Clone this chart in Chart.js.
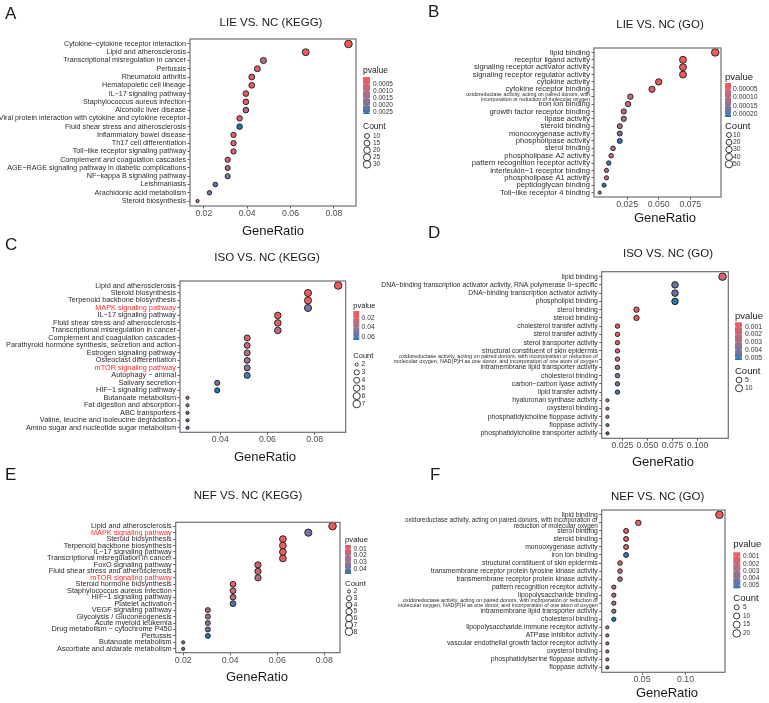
<!DOCTYPE html>
<html><head><meta charset="utf-8">
<script src="https://cdn.jsdelivr.net/npm/chart.js@4.4.1/dist/chart.umd.min.js"></script>
<style>
html,body{margin:0;padding:0;background:#fff;}
#wrap{position:relative;width:769px;height:703px;overflow:hidden;background:#fff;}
canvas{position:absolute;}
</style></head><body><div id="wrap"></div>
<script>
// ---------------- DATA ----------------
const A_terms = ["Cytokine−cytokine receptor interaction","Lipid and atherosclerosis","Transcriptional misregulation in cancer","Pertussis","Rheumatoid arthritis","Hematopoietic cell lineage","IL−17 signaling pathway","Staphylococcus aureus infection","Alcoholic liver disease","Viral protein interaction with cytokine and cytokine receptor","Fluid shear stress and atherosclerosis","Inflammatory bowel disease","Th17 cell differentiation","Toll−like receptor signaling pathway","Complement and coagulation cascades","AGE−RAGE signaling pathway in diabetic complications","NF−kappa B signaling pathway","Leishmaniasis","Arachidonic acid metabolism","Steroid biosynthesis"];
const A_ratio = [0.0867,0.067,0.0475,0.0447,0.0421,0.0421,0.0394,0.0394,0.0394,0.0365,0.0365,0.0337,0.0337,0.0337,0.031,0.031,0.031,0.0253,0.0226,0.0171];
const A_count = [31,24,17,16,15,15,14,14,14,13,13,12,12,12,11,11,11,9,8,6];
const A_pvalue = [0.00001,0.0001,0.0012,0.0002,0.0002,0.0003,0.0003,0.0003,0.0011,0.0004,0.0026,0.0004,0.0005,0.0006,0.0006,0.0013,0.0019,0.0023,0.0018,0.0004];
const A_xticks = ["0.02","0.04","0.06","0.08"];
const A_pticks = ["0.0005","0.0010","0.0015","0.0020","0.0025"];
const A_cticks = [10,15,20,25,30];
const A_red = [];

const B_terms = ["lipid binding","receptor ligand activity","signaling receptor activator activity","signaling receptor regulator activity","cytokine activity","cytokine receptor binding","oxidoreductase activity, acting on paired donors, with\nincorporation or reduction of molecular oxygen","iron ion binding","growth factor receptor binding","lipase activity","steroid binding","monooxygenase activity","phospholipase activity","sterol binding","phospholipase A2 activity","pattern recognition receptor activity","interleukin−1 receptor binding","phospholipase A1 activity","peptidoglycan binding","Toll−like receptor 4 binding"];
const B_ratio = [0.0947,0.0692,0.0692,0.0692,0.05,0.0447,0.0276,0.0258,0.0224,0.0224,0.0192,0.0192,0.0192,0.0139,0.0124,0.0105,0.0087,0.0087,0.0068,0.0034];
const B_count = [55,40,40,40,29,26,16,15,13,13,11,11,11,8,7,6,5,5,4,2];
const B_pvalue = [0.000013,0.000015,0.000017,0.000019,0.00002,0.000022,0.00008,0.00006,0.0001,0.00011,0.00013,0.00018,0.00021,0.0001,0.00007,0.0002,0.00011,0.00007,0.000216,0.00012];
const B_xticks = ["0.025","0.050","0.075"];
const B_pticks = ["0.00005","0.00010","0.00015","0.00020"];
const B_cticks = [10,20,30,40,50];
const B_red = [];

const C_terms = ["Lipid and atherosclerosis","Steroid biosynthesis","Terpenoid backbone biosynthesis","MAPK signaling pathway","IL−17 signaling pathway","Fluid shear stress and atherosclerosis","Transcriptional misregulation in cancer","Complement and coagulation cascades","Parathyroid hormone synthesis, secretion and action","Estrogen signaling pathway","Osteoclast differentiation","mTOR signaling pathway","Autophagy − animal","Salivary secretion","HIF−1 signaling pathway","Butanoate metabolism","Fat digestion and absorption","ABC transporters","Valine, leucine and isoleucine degradation","Amino sugar and nucleotide sugar metabolism"];
const C_ratio = [0.09,0.0772,0.0772,0.0772,0.0644,0.0644,0.0644,0.0514,0.0514,0.0514,0.0514,0.0514,0.0514,0.0387,0.0387,0.0261,0.0261,0.0261,0.0261,0.0261];
const C_count = [7,6,6,6,5,5,5,4,4,4,4,4,4,3,3,2,2,2,2,2];
const C_pvalue = [0.004,0.006,0.008,0.05,0.009,0.011,0.028,0.012,0.02,0.03,0.035,0.045,0.062,0.05,0.067,0.026,0.048,0.055,0.06,0.064];
const C_xticks = ["0.04","0.06","0.08"];
const C_pticks = ["0.02","0.04","0.06"];
const C_cticks = [2,3,4,5,6,7];
const C_red = [3,11];

const D_terms = ["lipid binding","DNA−binding transcription activator activity, RNA polymerase II−specific","DNA−binding transcription activator activity","phospholipid binding","sterol binding","steroid binding","cholesterol transfer activity","sterol transfer activity","sterol transporter activity","structural constituent of skin epidermis","oxidoreductase activity, acting on paired donors, with incorporation or reduction of\nmolecular oxygen, NAD(P)H as one donor, and incorporation of one atom of oxygen","intramembrane lipid transporter activity","cholesterol binding","carbon−carbon lyase activity","lipid transfer activity","hyaluronan synthase activity","oxysterol binding","phosphatidylcholine floppase activity","floppase activity","phosphatidylcholine transporter activity"];
const D_ratio = [0.125,0.0775,0.0775,0.0775,0.039,0.039,0.02,0.02,0.02,0.02,0.02,0.02,0.02,0.02,0.02,0.01,0.01,0.01,0.01,0.01];
const D_count = [13,8,8,8,4,4,2,2,2,2,2,2,2,2,2,1,1,1,1,1];
const D_pvalue = [0.0016,0.0045,0.0046,0.0052,0.0004,0.0005,0.0006,0.0007,0.0011,0.0013,0.0021,0.003,0.0042,0.0043,0.005,0.0012,0.0013,0.0014,0.004,0.0053];
const D_xticks = ["0.025","0.050","0.075","0.100"];
const D_pticks = ["0.001","0.002","0.003","0.004","0.005"];
const D_cticks = [5,10];
const D_red = [];

const E_terms = ["Lipid and atherosclerosis","MAPK signaling pathway","Steroid biosynthesis","Terpenoid backbone biosynthesis","IL−17 signaling pathway","Transcriptional misregulation in cancer","FoxO signaling pathway","Fluid shear stress and atherosclerosis","mTOR signaling pathway","Steroid hormone biosynthesis","Staphylococcus aureus infection","HIF−1 signaling pathway","Platelet activation","VEGF signaling pathway","Glycolysis / Gluconeogenesis","Acute myeloid leukemia","Drug metabolism − cytochrome P450","Pertussis","Butanoate metabolism","Ascorbate and aldarate metabolism"];
const E_ratio = [0.0835,0.0732,0.0624,0.0624,0.0624,0.0624,0.0518,0.0518,0.0518,0.0412,0.0412,0.0412,0.0412,0.0305,0.0305,0.0305,0.0305,0.0305,0.02,0.02];
const E_count = [8,7,6,6,6,6,5,5,5,4,4,4,4,3,3,3,3,3,2,2];
const E_pvalue = [0.004,0.038,0.005,0.006,0.007,0.01,0.016,0.018,0.021,0.008,0.015,0.022,0.043,0.026,0.03,0.034,0.038,0.048,0.036,0.036];
const E_xticks = ["0.02","0.04","0.06","0.08"];
const E_pticks = ["0.01","0.02","0.03","0.04"];
const E_cticks = [2,3,4,5,6,7,8];
const E_red = [1,8];

const F_terms = ["lipid binding","oxidoreductase activity, acting on paired donors, with incorporation or\nreduction of molecular oxygen","sterol binding","steroid binding","monooxygenase activity","iron ion binding","structural constituent of skin epidermis","transmembrane receptor protein tyrosine kinase activity","transmembrane receptor protein kinase activity","pattern recognition receptor activity","lipopolysaccharide binding","oxidoreductase activity, acting on paired donors, with incorporation or reduction of\nmolecular oxygen, NAD(P)H as one donor, and incorporation of one atom of oxygen","intramembrane lipid transporter activity","cholesterol binding","lipopolysaccharide immune receptor activity","ATPase inhibitor activity","vascular endothelial growth factor receptor activity","oxysterol binding","phosphatidylserine floppase activity","floppase activity"];
const F_ratio = [0.139,0.0457,0.0316,0.0316,0.0316,0.0316,0.0247,0.0247,0.0247,0.0175,0.0175,0.0175,0.0175,0.0175,0.01,0.01,0.01,0.01,0.01,0.01];
const F_count = [20,7,5,5,5,5,4,4,4,3,3,3,3,3,2,2,2,2,2,2];
const F_pvalue = [0.0004,0.0006,0.0007,0.0008,0.0013,0.0052,0.0009,0.0014,0.0022,0.0023,0.0024,0.0028,0.0038,0.0054,0.0015,0.0016,0.0017,0.0018,0.0019,0.005];
const F_xticks = ["0.05","0.10"];
const F_pticks = ["0.001","0.002","0.003","0.004","0.005"];
const F_cticks = [5,10,15,20];
const F_red = [];

// ---------------- STYLE / LAYOUT ----------------
const FONT = '"Liberation Sans", Arial, Helvetica, sans-serif';
const LOW = '#EF5A5F', HIGH = '#1F78B4';
const R0 = 1.6, R1 = 3.8, XH = 16;

function hexToRgb(h){h=h.replace('#','');return [parseInt(h.slice(0,2),16),parseInt(h.slice(2,4),16),parseInt(h.slice(4,6),16)];}
function s2l(c){c/=255;return c<=0.04045?c/12.92:Math.pow((c+0.055)/1.055,2.4);}
function l2s(c){const v=c<=0.0031308?12.92*c:1.055*Math.pow(c,1/2.4)-0.055;return Math.round(Math.max(0,Math.min(1,v))*255);}
function rgb2lab(rgb){const r=s2l(rgb[0]),g=s2l(rgb[1]),b=s2l(rgb[2]);
 const x=(0.4124564*r+0.3575761*g+0.1804375*b)/0.95047,y=(0.2126729*r+0.7151522*g+0.0721750*b),z=(0.0193339*r+0.1191920*g+0.9503041*b)/1.08883;
 const f=t=>t>0.008856?Math.cbrt(t):(7.787*t+16/116);const fx=f(x),fy=f(y),fz=f(z);
 return [116*fy-16,500*(fx-fy),200*(fy-fz)];}
function lab2rgb(l){const fy=(l[0]+16)/116,fx=fy+l[1]/500,fz=fy-l[2]/200;
 const fi=t=>t*t*t>0.008856?t*t*t:(t-16/116)/7.787;
 const x=fi(fx)*0.95047,y=fi(fy),z=fi(fz)*1.08883;
 return [l2s(3.2404542*x-1.5371385*y-0.4985314*z),l2s(-0.9692660*x+1.8760108*y+0.0415560*z),l2s(0.0556434*x-0.2040259*y+1.0572252*z)];}
const LAB_LO = rgb2lab(hexToRgb(LOW)), LAB_HI = rgb2lab(hexToRgb(HIGH));
function ramp(t){t=Math.max(0,Math.min(1,t));const l=LAB_LO.map((v,i)=>v+(LAB_HI[i]-v)*t);const c=lab2rgb(l);return `rgb(${c[0]},${c[1]},${c[2]})`;}

const panels = [
 {terms:A_terms,ratio:A_ratio,count:A_count,pvalue:A_pvalue,xticks:A_xticks,pticks:A_pticks,cticks:A_cticks,red:A_red,
  title:'LIE VS. NC (KEGG)',letter:'A',
  cv:{x:0,y:0,w:430,h:240},box:{l:190,r:356,t:39,b:206},titlePos:[271,23],letterPos:[5,18.5],xlabPos:[273,231],
  yFont:7.2,fontOv:{},
  lg:{x:363,pT:71,tf:8.5,bT:77,bH:37,bW:7,lx:373,lf:6.5,cT:127,cx:367,cy:136,cs:7.1}},
 {terms:B_terms,ratio:B_ratio,count:B_count,pvalue:B_pvalue,xticks:B_xticks,pticks:B_pticks,cticks:B_cticks,red:B_red,
  title:'LIE VS. NC (GO)',letter:'B',
  cv:{x:385,y:0,w:384,h:235},box:{l:594,r:721,t:48,b:197},titlePos:[660,25],letterPos:[428,17],xlabPos:[665,218],
  yFont:7.6,fontOv:{6:5.3},
  lg:{x:725,pT:77,tf:9.5,bT:83,bH:34,bW:6,lx:733,lf:6.8,cT:126,cx:729,cy:135,cs:7.3}},
 {terms:C_terms,ratio:C_ratio,count:C_count,pvalue:C_pvalue,xticks:C_xticks,pticks:C_pticks,cticks:C_cticks,red:C_red,
  title:'ISO VS. NC (KEGG)',letter:'C',
  cv:{x:0,y:235,w:420,h:235},box:{l:180,r:345.7,t:281,b:432.3},titlePos:[267,258],letterPos:[5,250],xlabPos:[265,457.7],
  yFont:7.3,fontOv:{},
  lg:{x:353.3,pT:306,tf:7.5,bT:311,bH:29,bW:6,lx:361.5,lf:6.8,cT:356,cx:356.7,cy:364.5,cs:7.9}},
 {terms:D_terms,ratio:D_ratio,count:D_count,pvalue:D_pvalue,xticks:D_xticks,pticks:D_pticks,cticks:D_cticks,red:D_red,
  title:'ISO VS. NC (GO)',letter:'D',
  cv:{x:370,y:225,w:399,h:245},box:{l:601.7,r:728.3,t:271.7,b:438.3},titlePos:[668,254.3],letterPos:[428,238],xlabPos:[663,462.7],
  yFont:6.8,fontOv:{10:5.5},
  lg:{x:735,pT:316,tf:9.5,bT:322.3,bH:37.7,bW:7,lx:745,lf:6.8,cT:371,cx:739,cy:380,cs:8.3}},
 {terms:E_terms,ratio:E_ratio,count:E_count,pvalue:E_pvalue,xticks:E_xticks,pticks:E_pticks,cticks:E_cticks,red:E_red,
  title:'NEF VS. NC (KEGG)',letter:'E',
  cv:{x:0,y:462,w:420,h:241},box:{l:175.7,r:340,t:522.3,b:652.7},titlePos:[248,495.7],letterPos:[5,479.5],xlabPos:[257,677],
  yFont:7.3,fontOv:{},
  lg:{x:345,pT:540,tf:7.8,bT:545,bH:29,bW:6,lx:353.5,lf:6.8,cT:583.5,cx:349,cy:591.5,cs:6.7}},
 {terms:F_terms,ratio:F_ratio,count:F_count,pvalue:F_pvalue,xticks:F_xticks,pticks:F_pticks,cticks:F_cticks,red:F_red,
  title:'NEF VS. NC (GO)',letter:'F',
  cv:{x:370,y:462,w:399,h:241},box:{l:601.7,r:725,t:510,b:672.3},titlePos:[657.7,496.7],letterPos:[430,480],xlabPos:[667,693],
  yFont:6.8,fontOv:{1:6.3,11:5.4},
  lg:{x:733.3,pT:544,tf:9.5,bT:552.3,bH:36,bW:7,lx:743,lf:6.5,cT:598.3,cx:736.7,cy:607.3,cs:8.7}}
];

const wrap = document.getElementById('wrap');

function makePanel(P){
  const cv = document.createElement('canvas');
  cv.width = P.cv.w; cv.height = P.cv.h;
  cv.style.left = P.cv.x+'px'; cv.style.top = P.cv.y+'px';
  cv.style.width = P.cv.w+'px'; cv.style.height = P.cv.h+'px';
  wrap.appendChild(cv);
  const n = P.terms.length;
  const xmin = Math.min(...P.ratio), xmax = Math.max(...P.ratio), ex = (xmax-xmin)*0.05;
  const cmin = Math.min(...P.count), cmax = Math.max(...P.count);
  const pmin = Math.min(...P.pvalue), pmax = Math.max(...P.pvalue);
  const rad = c => R0 + (R1-R0)*Math.sqrt(Math.max(0,(c-cmin)/(cmax-cmin)));
  const col = p => ramp((p-pmin)/(pmax-pmin));
  const pts = P.ratio.map((x,i)=>({x:x, y:i, r:rad(P.count[i]), p:P.pvalue[i]}));
  const ox = P.cv.x, oy = P.cv.y;

  const decor = {id:'decor'+P.letter, afterDraw(chart){
    const c = chart.ctx, a = chart.chartArea;
    c.save();
    c.strokeStyle = '#6f6f6f'; c.lineWidth = 1.2;
    c.strokeRect(a.left, a.top, a.right-a.left, a.bottom-a.top);
    c.fillStyle = '#1a1a1a';
    c.textBaseline = 'alphabetic'; c.textAlign = 'left';
    c.font = '17px '+FONT;
    c.fillText(P.letter, P.letterPos[0]-ox, P.letterPos[1]-oy);
    c.textAlign = 'center'; c.textBaseline = 'middle';
    c.font = '11.5px '+FONT;
    c.fillText(P.title, P.titlePos[0]-ox, P.titlePos[1]-oy);
    c.font = '13px '+FONT;
    c.fillText('GeneRatio', P.xlabPos[0]-ox, P.xlabPos[1]-oy);
    // legend
    const L = P.lg;
    c.textAlign = 'left'; c.fillStyle = '#1a1a1a';
    c.font = L.tf+'px '+FONT;
    c.fillText('pvalue', L.x-ox, L.pT-oy);
    const g = c.createLinearGradient(0, L.bT-oy, 0, L.bT+L.bH-oy);
    for(let k=0;k<=20;k++) g.addColorStop(k/20, ramp(k/20));
    c.fillStyle = g;
    c.fillRect(L.x-ox, L.bT-oy, L.bW, L.bH);
    c.font = L.lf+'px '+FONT;
    P.pticks.forEach(s=>{
      const v = Number(s);
      const yy = L.bT + (v-pmin)/(pmax-pmin)*L.bH - oy;
      c.strokeStyle = '#fff'; c.lineWidth = 0.6;
      c.beginPath(); c.moveTo(L.x-ox, yy); c.lineTo(L.x-ox+L.bW*0.2, yy);
      c.moveTo(L.x-ox+L.bW*0.8, yy); c.lineTo(L.x-ox+L.bW, yy); c.stroke();
      c.fillStyle = '#333';
      c.fillText(s, L.lx-ox, yy);
    });
    c.fillStyle = '#1a1a1a';
    c.font = L.tf+'px '+FONT;
    c.fillText('Count', L.x-ox, L.cT-oy);
    c.font = L.lf+'px '+FONT;
    P.cticks.forEach((cv,k)=>{
      const yy = L.cy + k*L.cs - oy;
      c.beginPath(); c.arc(L.cx-ox, yy, rad(cv), 0, Math.PI*2);
      c.fillStyle = '#fff'; c.fill();
      c.strokeStyle = '#222'; c.lineWidth = 0.9; c.stroke();
      c.fillStyle = '#333';
      c.fillText(String(cv), L.lx-ox, yy);
    });
    c.restore();
  }};

  new Chart(cv, {
    type:'bubble',
    data:{datasets:[{data:pts, backgroundColor: ctx => col(ctx.raw.p), borderColor:'#1a1a1a', borderWidth:0.9, hoverRadius:0, hoverBorderWidth:0.9, clip:false}]},
    options:{
      responsive:false, animation:false, devicePixelRatio:1, events:[],
      layout:{padding:{left:0, top:P.box.t-oy, right:P.cv.x+P.cv.w-P.box.r, bottom:P.cv.y+P.cv.h-P.box.b-XH}},
      plugins:{legend:{display:false}, tooltip:{enabled:false}, title:{display:false}},
      scales:{
        x:{type:'linear', bounds:'data', min:xmin-ex, max:xmax+ex,
           afterBuildTicks: s=>{ s.ticks = P.xticks.map(t=>({value:Number(t)})); },
           afterFit: s=>{ s.height = XH; },
           ticks:{autoSkip:false, maxRotation:0, padding:0, color:'#4d4d4d', font:{family:FONT,size:8.7},
                  callback:(v,i)=>P.xticks[i]},
           grid:{drawOnChartArea:false, tickLength:2.5, tickColor:'#333', tickWidth:0.8},
           border:{display:false}},
        y:{type:'linear', bounds:'data', reverse:true, min:-0.6, max:n-0.4,
           afterBuildTicks: s=>{ s.ticks = P.terms.map((t,i)=>({value:i})); },
           afterFit: s=>{ s.width = P.box.l - ox; },
           ticks:{autoSkip:false, padding:1.5,
                  color: ctx => P.red.includes(ctx.index) ? '#FF2A2A' : '#2b2b2b',
                  font: ctx => { const o = P.fontOv[ctx.index]; return o ? {family:FONT,size:o,lineHeight:0.95} : {family:FONT,size:P.yFont,lineHeight:1.2}; },
                  callback:(v)=>{ const t = P.terms[v]; return t.indexOf('\n')>=0 ? t.split('\n') : t; }},
           grid:{drawOnChartArea:false, tickLength:2.5, tickColor:'#333', tickWidth:0.8},
           border:{display:false}}
      }
    },
    plugins:[decor]
  });
}
panels.forEach(makePanel);
</script>
</body></html>
